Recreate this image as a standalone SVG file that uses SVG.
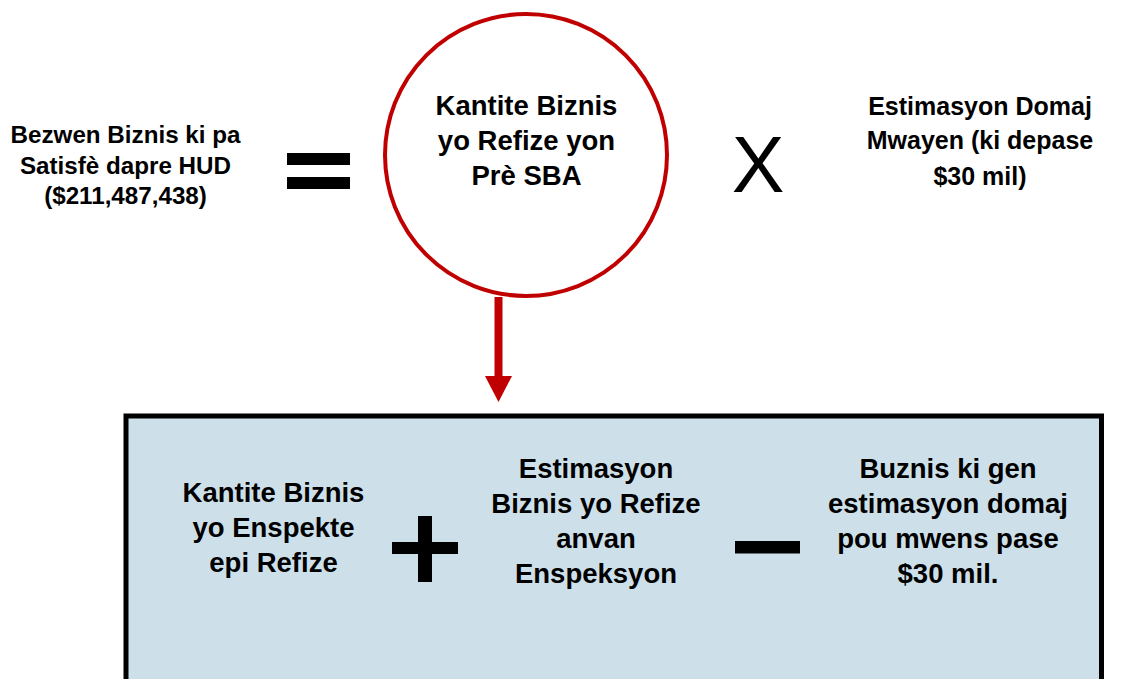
<svg xmlns="http://www.w3.org/2000/svg" width="1125" height="679" viewBox="0 0 1125 679">
<style>
.t{font-family:"Liberation Sans",Arial,sans-serif;font-weight:bold;fill:#000;text-anchor:middle}
.m{font-size:27.5px}
.r{font-size:25px}
.s{font-size:24.2px}
.op{fill:#000}
</style>
<rect width="1125" height="679" fill="#fff"/>
<g id="result">
<text class="t s" x="125.5" y="143">Bezwen Biznis ki pa</text>
<text class="t s" x="125.5" y="174">Satisfè dapre HUD</text>
<text class="t s" x="125.5" y="204">($211,487,438)</text>
</g>
<g id="equals">
<rect class="op" x="287" y="153" width="63" height="12"/>
<rect class="op" x="287" y="177" width="63" height="12"/>
</g>
<g id="refused">
<circle cx="526" cy="155" r="141" fill="#fff" stroke="#c00000" stroke-width="4"/>
<text class="t m" x="526.5" y="115">Kantite Biznis</text>
<text class="t m" x="526.5" y="150">yo Refize yon</text>
<text class="t m" x="526.5" y="185">Prè SBA</text>
</g>
<g id="times">
<text x="758" y="192" style="font-family:'Liberation Sans',Arial,sans-serif;font-size:79px;text-anchor:middle">X</text>
</g>
<g id="damage">
<text class="t r" x="980" y="115">Estimasyon Domaj</text>
<text class="t r" x="980" y="149">Mwayen (ki depase</text>
<text class="t r" x="980" y="185">$30 mil)</text>
</g>
<g id="connectors">
<line x1="498.5" y1="297" x2="498.5" y2="378" stroke="#c00000" stroke-width="8"/>
<polygon points="485,376 512,376 498.5,402" fill="#c00000"/>
</g>
<g id="box">
<rect x="126" y="416" width="975.5" height="300" fill="#cde0ea" stroke="#000" stroke-width="5"/>
<text class="t m" x="273.5" y="502">Kantite Biznis</text>
<text class="t m" x="273.5" y="537">yo Enspekte</text>
<text class="t m" x="273.5" y="572">epi Refize</text>
<rect class="op" x="418" y="516" width="14" height="66"/>
<rect class="op" x="392" y="542" width="66" height="12"/>
<text class="t m" x="596" y="478">Estimasyon</text>
<text class="t m" x="596" y="513">Biznis yo Refize</text>
<text class="t m" x="596" y="548">anvan</text>
<text class="t m" x="596" y="583">Enspeksyon</text>
<rect class="op" x="735" y="541" width="65" height="12.5"/>
<text class="t m" x="948" y="478">Buznis ki gen</text>
<text class="t m" x="948" y="513">estimasyon domaj</text>
<text class="t m" x="948" y="548">pou mwens pase</text>
<text class="t m" x="948" y="583">$30 mil.</text>
</g>
</svg>
